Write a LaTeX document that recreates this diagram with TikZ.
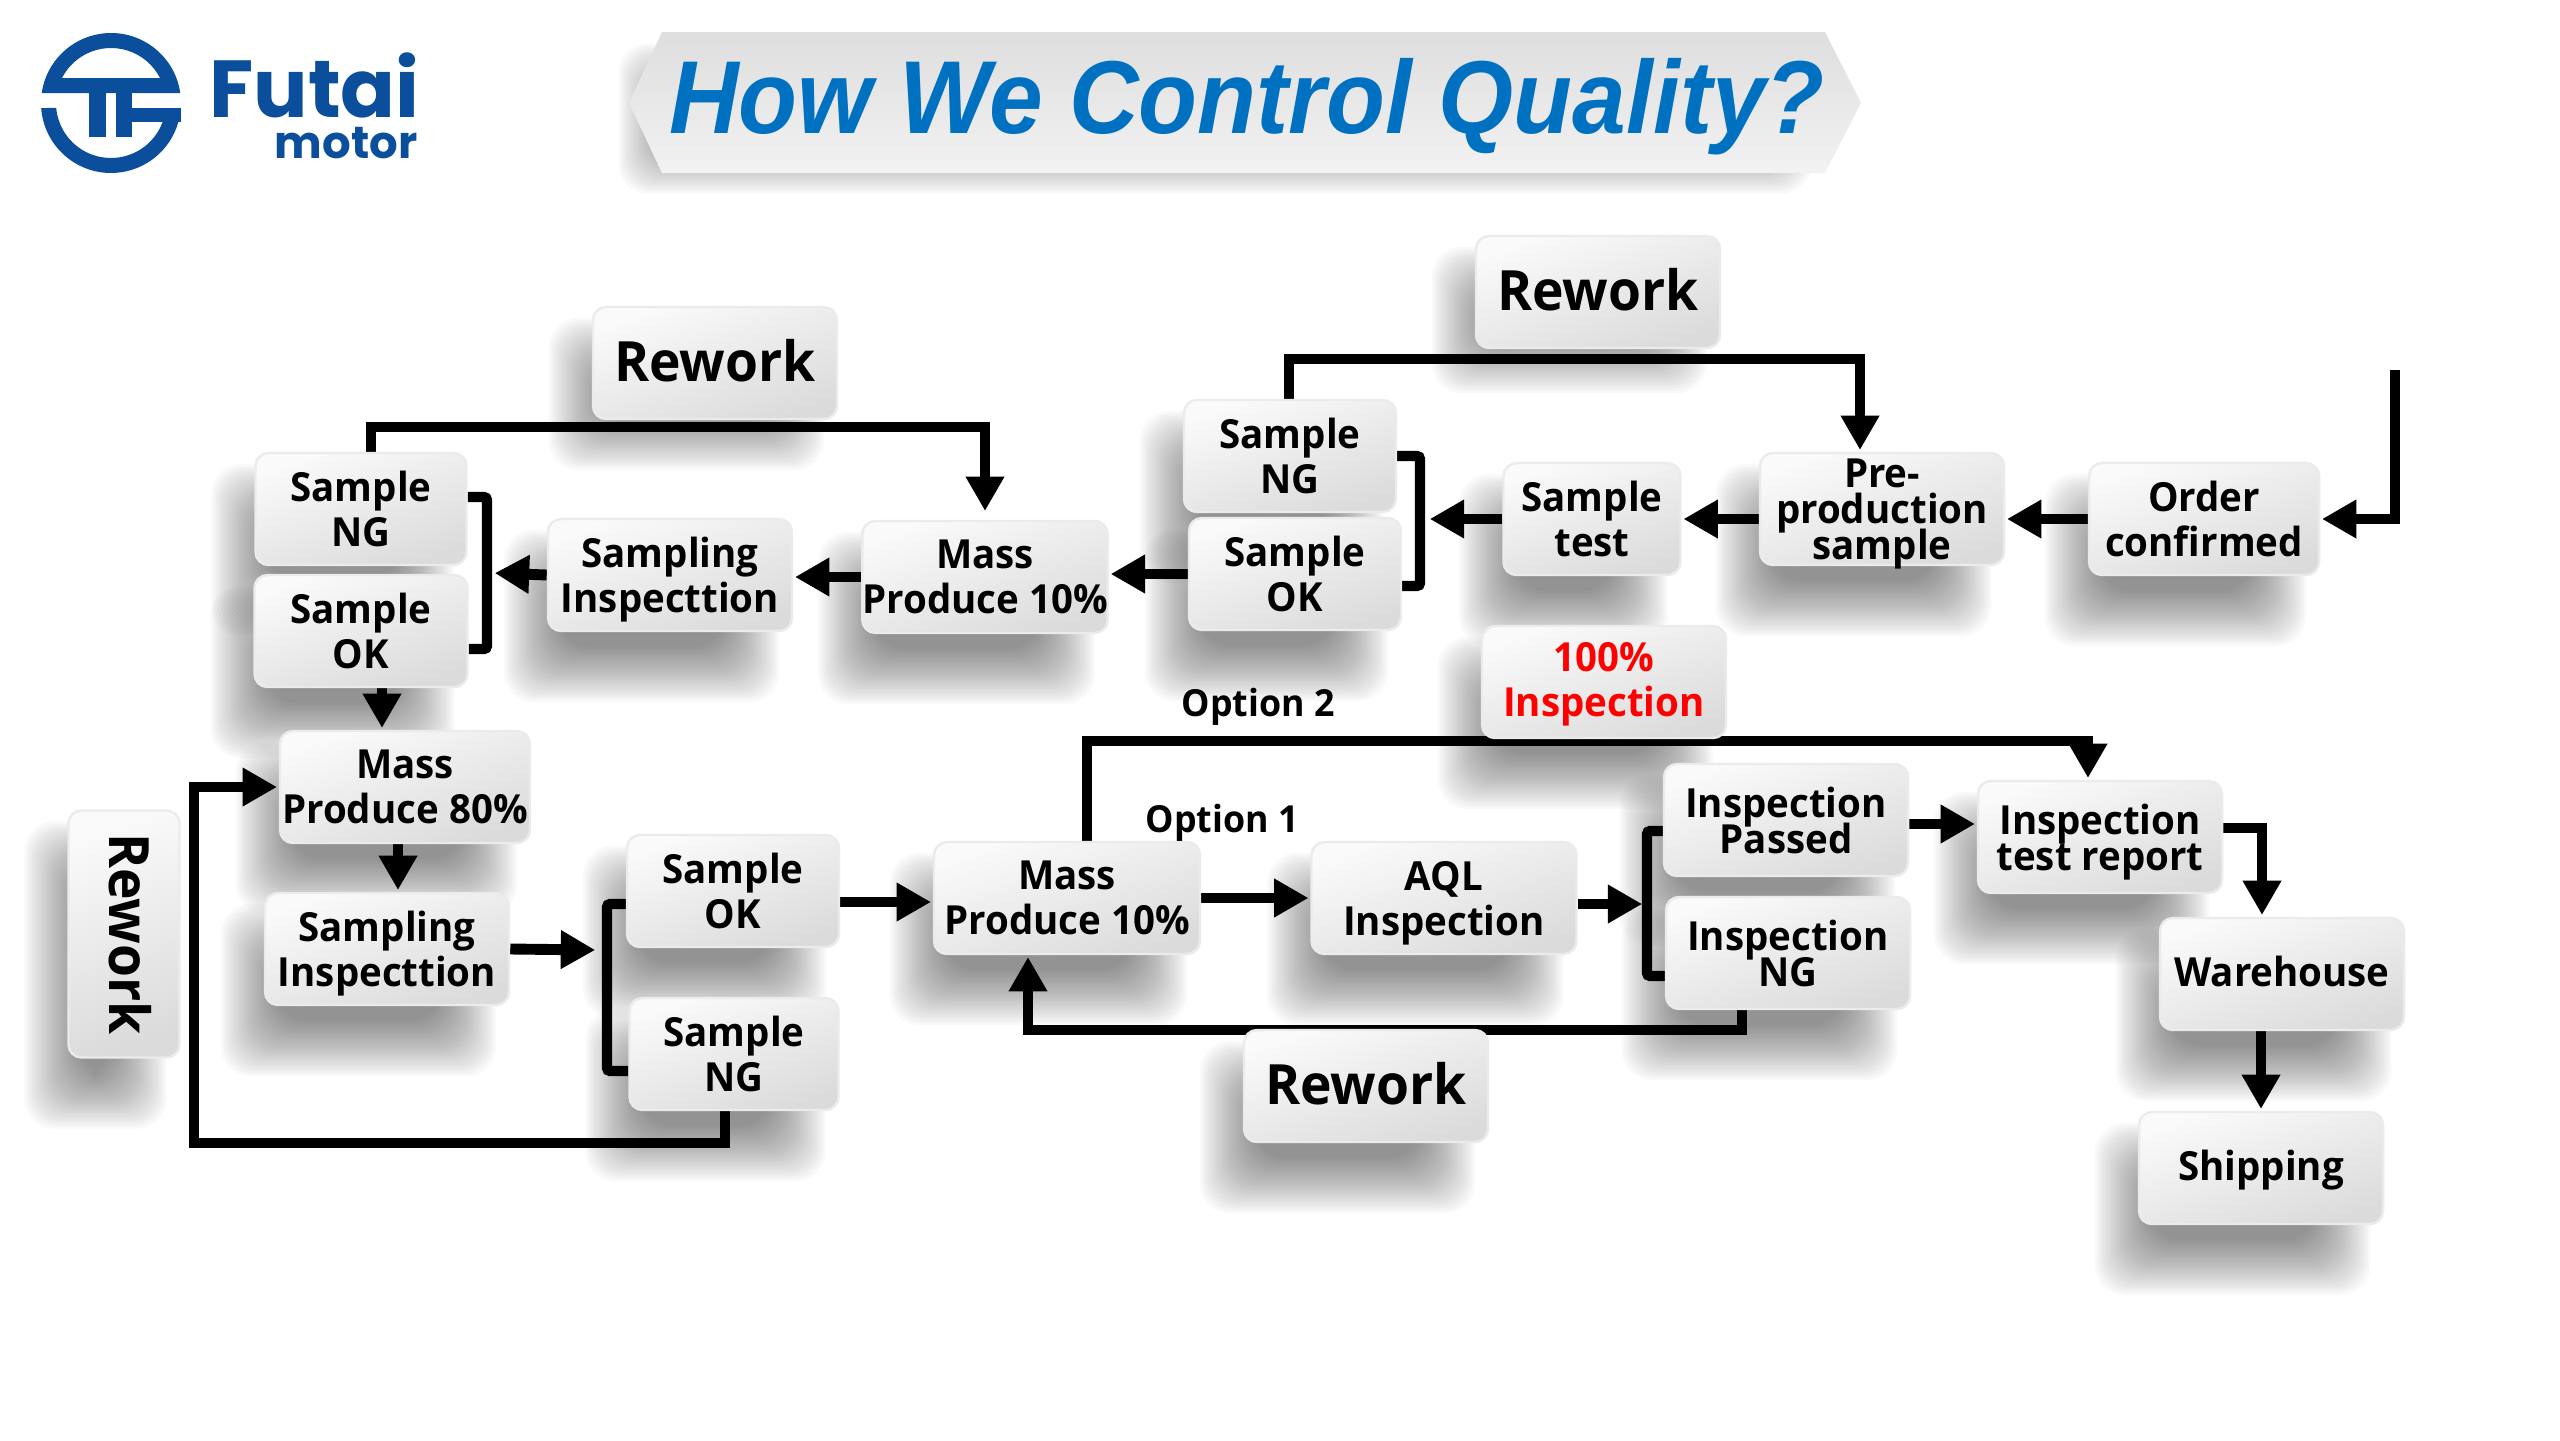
\documentclass[tikz,border=0pt]{standalone}
\usepackage{fontspec}
\setmainfont{Open Sans}[FakeStretch=.96]
\newfontfamily\titlefont{Liberation Sans}[FakeStretch=.93]
\newfontfamily\logofont{Poppins}
\usetikzlibrary{arrows.meta,calc}
\definecolor{logoblue}{HTML}{0B4F9C}
\definecolor{titleblue}{HTML}{0070C0}
\pgfdeclarelayer{shade}
\pgfdeclarelayer{wires}
\pgfsetlayers{shade,wires,main}
\tikzset{
 stepbox/.style={rounded corners=.13cm, draw=white!92!black, line width=.7pt, left color=white!98!black, right color=white!86!black,
  shading angle=20, inner sep=0pt, align=center, text depth=-.06cm, minimum width=2.44cm, minimum height=1.12cm,
  font=\fontsize{11.4}{12.8}\selectfont\bfseries},
 oneline/.style={text depth=.06cm},
 reworkbox/.style={stepbox, oneline, font=\fontsize{15.8}{18}\selectfont\bfseries},
 tight/.style={font=\fontsize{11.4}{10.2}\selectfont\bfseries, execute at begin node={\lineskiplimit=-20pt}},
 note/.style={inner sep=0pt, font=\fontsize{10.6}{12}\selectfont\bfseries},
 flow/.style={line width=3.1pt, -{Triangle[width=10.4pt,length=9.8pt]}, shorten >=.5pt},
 bar/.style={line width=2.9pt, rounded corners=.03cm},
}
\newcommand{\softshade}[2][.42]{%
 \begin{pgfonlayer}{shade}
 \foreach \g in {-.28,-.255,...,.281}
  \fill[black, opacity=.024, rounded corners=.3cm]
   ($(#2.south west)+(-.15+\g,#1-\g)$) rectangle ($(#2.north east)+(-.42-\g,.40+\g)$);
 \end{pgfonlayer}}

\begin{document}
\begin{tikzpicture}[x=1cm,y=-1cm]
 \useasboundingbox (0,0) rectangle (25.6,14.4);

 % logo
 \begin{scope}[shift={(1.11,1.03)},y=1cm,logoblue]
  \fill[even odd rule] (8.2:.7) arc (8.2:171.8:.7) -- cycle (27:.55) arc (27:153:.55) -- cycle;
  \fill (184.1:.7) arc (184.1:344.3:.7) -- (339.8:.55) arc (339.8:185.2:.55) -- cycle;
  \fill (-.22,.10) rectangle (-.05,-.34);
  \fill (.05,.10) rectangle (.21,-.34);
  \fill (.05,-.05) rectangle (.70,-.19);
 \end{scope}
 \node[logoblue, inner sep=0pt, font=\logofont\fontsize{23}{23}\selectfont\bfseries] (futai) at (3.145,.85) {Futai};
 \node[logoblue, inner sep=0pt, anchor=east, font=\logofont\fontsize{12.8}{12}\selectfont\bfseries] (motor) at (4.18,1.43) {motor};

 % title
 \node[minimum width=11.63cm, minimum height=1.41cm, inner sep=0pt] (banner) at (12.435,1.025) {};
 \softshade[-.08]{banner}
 \shade[top color=white!87!black, bottom color=white!95!black] (6.62,.32) -- (18.25,.32) -- (18.61,1.03) -- (18.25,1.73) -- (6.62,1.73) -- (6.29,1.03) -- cycle;
 \node[titleblue, inner sep=0pt, font=\titlefont\fontsize{29.5}{30}\selectfont\bfseries\itshape] (title) at (12.47,1.07) {How We Control Quality?};

 % top row
 \node[reworkbox] (reworkA) at (15.98,2.92) {Rework};
 \node[stepbox, minimum width=2.12cm] (ngA) at (12.90,4.56) {Sample\\NG};
 \node[stepbox, minimum width=2.12cm] (okA) at (12.95,5.74) {Sample\\OK};
 \node[stepbox, minimum width=1.77cm] (testA) at (15.92,5.19) {Sample\\test};
 \node[stepbox, tight] (pre) at (18.82,5.09) {Pre-\\production\\sample};
 \node[stepbox, minimum width=2.30cm] (order) at (22.04,5.19) {Order\\confirmed};
 \coordinate (orderIn) at (23.95,3.70);
 \coordinate (railA) at (16,3.59);
 \coordinate (barA) at (14.20,5.19);

 % second row
 \node[reworkbox] (reworkB) at (7.15,3.63) {Rework};
 \node[stepbox, minimum width=2.11cm] (ngB) at (3.61,5.09) {Sample\\NG};
 \node[stepbox, minimum width=2.13cm] (okB) at (3.61,6.31) {Sample\\OK};
 \node[stepbox] (inspB) at (6.70,5.75) {Sampling\\Inspecttion};
 \node[stepbox] (massB) at (9.85,5.77) {Mass\\Produce 10\%};
 \coordinate (railB) at (7,4.27);
 \coordinate (barB) at (4.87,5.73);

 % lower left
 \node[stepbox, minimum width=1.11cm, minimum height=2.47cm] (reworkC) at (1.24,9.34) {};
 \node[rotate=-90, inner sep=0pt, font=\fontsize{15.8}{18}\selectfont\bfseries] (reworkCtext) at (1.30,9.34) {Rework};
 \node[stepbox, minimum width=2.50cm] (massC) at (4.05,7.87) {Mass\\Produce 80\%};
 \node[stepbox] (inspC) at (3.87,9.49) {Sampling\\Inspecttion};
 \node[stepbox, minimum width=2.12cm] (okC) at (7.33,8.91) {Sample\\OK};
 \node[stepbox, minimum width=2.09cm] (ngC) at (7.34,10.54) {Sample\\NG};
 \coordinate (railC) at (1.94,11.43);
 \coordinate (barC) at (6.07,9.50);

 % lower right
 \node[stepbox, minimum width=2.66cm] (massD) at (10.67,8.98) {Mass\\Produce 10\%};
 \node[stepbox, minimum width=2.65cm] (aql) at (14.44,8.98) {AQL\\Inspection};
 \node[stepbox, text=red, text depth=.06cm] (full) at (16.04,6.82) {100\%\\Inspection};
 \node[stepbox, tight] (passed) at (17.86,8.20) {Inspection\\Passed};
 \node[stepbox, tight] (ngD) at (17.88,9.53) {Inspection\\NG};
 \node[stepbox, tight] (report) at (21.00,8.37) {Inspection\\test report};
 \node[stepbox, oneline] (ware) at (22.82,9.74) {Warehouse};
 \node[stepbox, oneline] (ship) at (22.61,11.68) {Shipping};
 \node[reworkbox] (reworkD) at (13.66,10.86) {Rework};
 \node[note] (optionB) at (12.58,7.07) {Option 2};
 \node[note] (optionA) at (12.22,8.23) {Option 1};
 \coordinate (railD) at (13,10.30);
 \coordinate (railE) at (16,7.41);
 \coordinate (barD) at (16.47,9.04);

 \foreach \n in {ngA,okA,testA,pre,order,ngB,okB,inspB,massB,massC,inspC,okC,ngC,massD,aql,full,passed,ngD,report,ware,ship,reworkC,reworkD}
  \softshade{\n};
 \softshade[.16]{reworkA}
 \softshade[.22]{reworkB}

 \begin{pgfonlayer}{wires}
 \draw[flow] ([xshift=-.01cm]ngA.north) |- (railA) -| ([xshift=-.22cm]pre.north);
 \draw[flow] (orderIn) |- (order.east);
 \draw[flow] (order.west) -- (order.west -| pre.east);
 \draw[flow] (pre.west |- testA) -- (testA.east);
 \draw[flow] (testA.west) -- ([xshift=.08cm]barA);
 \draw[bar] (ngA.east) -| (barA) |- ([yshift=-.12cm]okA.east);
 \draw[flow] (okA.west) -- (okA.west -| massB.east);
 \draw[flow] (massB.west) -- (massB.west -| inspB.east);
 \draw[flow] (inspB.west) -- ([xshift=.06cm]barB);
 \draw[bar] ([yshift=.12cm]ngB.east) -| (barB) |- ([yshift=-.18cm]okB.east);
 \draw[flow, shorten >=2.5pt] ([xshift=.10cm]ngB.north) |- (railB) -| (massB.north);
 \draw[flow] ([xshift=.21cm]okB.south) -- ([xshift=.21cm]okB.south |- massC.north);
 \draw[flow] ([xshift=-.07cm]massC.south) -- ([xshift=-.07cm]massC.south |- inspC.north);
 \draw[flow] (inspC.east) -- ([xshift=-.10cm]barC);
 \draw[bar] ([yshift=-.13cm]okC.west) -| (barC) |- ([yshift=-.17cm]ngC.west);
 \draw[flow] ([xshift=-.09cm]ngC.south) |- (railC) |- (massC.west);
 \draw[flow] ([yshift=-.11cm]okC.east) -- ([yshift=-.11cm]okC.east -| massD.west);
 \draw[flow] (massD.east) -- (massD.east -| aql.west);
 \draw[flow] ([yshift=-.06cm]aql.east) -- ([xshift=-.03cm]barD);
 \draw[bar] ([yshift=-.11cm]passed.west) -| (barD) |- ([yshift=-.23cm]ngD.west);
 \draw[flow] ([xshift=-.46cm]ngD.south) |- (railD) -| ([xshift=-.39cm]massD.south);
 \draw[flow] ([xshift=.20cm]massD.north) |- (railE) -| ([xshift=-.12cm]report.north);
 \draw[flow] ([yshift=-.04cm]passed.east) -- ([yshift=-.04cm]passed.east -| report.west);
 \draw[flow] ([yshift=.09cm]report.east) -| ([xshift=-.20cm]ware.north);
 \draw[flow] (ship.north |- ware.south) -- (ship.north);
 \end{pgfonlayer}

\end{tikzpicture}
\end{document}
